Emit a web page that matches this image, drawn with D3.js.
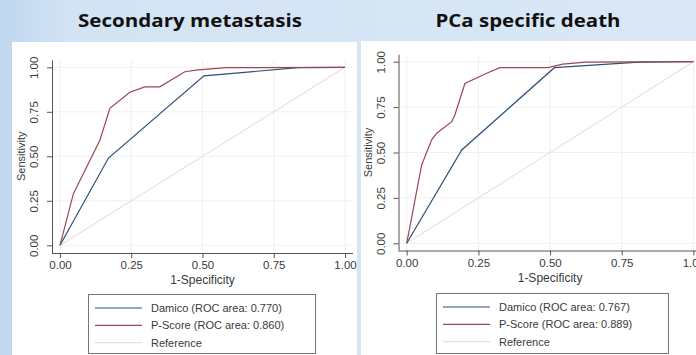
<!DOCTYPE html>
<html>
<head>
<meta charset="utf-8">
<script src="https://cdn.jsdelivr.net/npm/d3@7"></script>
<style>
  body { margin: 0; }
  svg { display: block; }
</style>
</head>
<body>
<svg id="chart" width="696" height="355"></svg>
<script>
// DATA
const tickValues = [0, 0.25, 0.5, 0.75, 1];
const panelTitles = ['Secondary metastasis', 'PCa specific death'];
const seriesNames = ['Damico', 'P-Score'];
const metAreas = ['0.770', '0.860'];
const deathAreas = ['0.767', '0.889'];

// [1-specificity, sensitivity]
const metDamico = [[0, 0], [0.17, 0.49], [0.505, 0.952], [0.835, 0.998], [1, 1]];
const metPScore = [[0, 0], [0.047, 0.29], [0.14, 0.59], [0.175, 0.77], [0.245, 0.86],
  [0.298, 0.89], [0.35, 0.89], [0.438, 0.975], [0.484, 0.985], [0.584, 0.998], [1, 1]];
const deathDamico = [[0, 0], [0.192, 0.514], [0.515, 0.967], [0.81, 0.998], [1, 1]];
const deathPScore = [[0, 0], [0.017, 0.14], [0.052, 0.43], [0.087, 0.57], [0.105, 0.606],
  [0.157, 0.67], [0.168, 0.707], [0.203, 0.88], [0.279, 0.936], [0.325, 0.967],
  [0.493, 0.967], [0.544, 0.987], [0.625, 0.998], [1, 1]];
const refLine = [[0, 0], [1, 1]];

// SETUP
var colors = { damico: '#2c5176', pscore: '#9a4852', ref: '#e8e0e0' };
var svg = d3.select('#chart');

// light blue slide background
var defs = svg.append('defs');
var grad = defs.append('linearGradient').attr('id', 'bg').attr('x1', 0).attr('x2', 1).attr('y1', 0).attr('y2', 0);
grad.append('stop').attr('offset', '0%').attr('stop-color', '#c0d7ef');
grad.append('stop').attr('offset', '10%').attr('stop-color', '#d2e3f4');
grad.append('stop').attr('offset', '100%').attr('stop-color', '#dae8f6');
svg.append('rect').attr('width', 696).attr('height', 355).attr('fill', 'url(#bg)');

var panels = [
  {
    title: panelTitles[0], titleX: 190, titleW: 224,
    box: [12, 42, 357, 355],
    x: d3.scaleLinear().domain([0, 1]).range([60, 345]),
    y: d3.scaleLinear().domain([0, 1]).range([245.3, 67.3]),
    axisX: 52, axisY: 253,
    series: [metDamico, metPScore],
    areas: metAreas,
    legend: [88, 294, 315, 353]
  },
  {
    title: panelTitles[1], titleX: 528, titleW: 185,
    box: [361, 41, 696, 355],
    x: d3.scaleLinear().domain([0, 1]).range([406.7, 693.4]),
    y: d3.scaleLinear().domain([0, 1]).range([243.3, 61.7]),
    axisX: 398.5, axisY: 250.5,
    series: [deathDamico, deathPScore],
    areas: deathAreas,
    legend: [436, 293, 668, 353]
  }
];

panels.forEach(function (p) {
  // title
  svg.append('text')
    .attr('x', p.titleX).attr('y', 27)
    .attr('text-anchor', 'middle')
    .attr('textLength', p.titleW).attr('lengthAdjust', 'spacingAndGlyphs')
    .style('font-family', '"Open Sans", sans-serif')
    .style('font-weight', 'bold').style('font-size', '17px')
    .attr('fill', '#111')
    .text(p.title);

  // white panel
  svg.append('rect')
    .attr('x', p.box[0]).attr('y', p.box[1])
    .attr('width', p.box[2] - p.box[0]).attr('height', p.box[3] - p.box[1])
    .attr('fill', '#fff');

  var g = svg.append('g');
  var x = p.x, y = p.y;

  // gridlines
  g.selectAll('line.hgrid').data(tickValues).enter().append('line')
    .attr('x1', p.axisX).attr('x2', x(1) + 8)
    .attr('y1', y).attr('y2', y)
    .attr('stroke', '#f0f0f0');
  g.selectAll('line.vgrid').data(tickValues).enter().append('line')
    .attr('x1', x).attr('x2', x)
    .attr('y1', p.axisY).attr('y2', y(1) - 7)
    .attr('stroke', '#f0f0f0');

  // curves
  var line = d3.line().x(function (d) { return x(d[0]); }).y(function (d) { return y(d[1]); });
  g.append('path').attr('d', line(refLine)).attr('fill', 'none')
    .attr('stroke', colors.ref).attr('stroke-width', 1.2);
  g.append('path').attr('d', line(p.series[0])).attr('fill', 'none')
    .attr('stroke', colors.damico).attr('stroke-width', 1.2);
  g.append('path').attr('d', line(p.series[1])).attr('fill', 'none')
    .attr('stroke', colors.pscore).attr('stroke-width', 1.2);

  // axes
  var xAxis = d3.axisBottom(x).tickValues(tickValues).tickFormat(d3.format('.2f')).tickSize(5).tickPadding(3);
  var gx = g.append('g').attr('transform', 'translate(0,' + p.axisY + ')').call(xAxis);
  gx.select('.domain').attr('d', 'M' + p.axisX + ',0.5H' + (x(1) + 8));
  var yAxis = d3.axisLeft(y).tickValues(tickValues).tickFormat(d3.format('.2f')).tickSize(5).tickPadding(3);
  var gy = g.append('g').attr('transform', 'translate(' + p.axisX + ',0)').call(yAxis);
  gy.select('.domain').attr('d', 'M0.5,' + p.axisY + 'V' + (y(1) - 7));
  [gx, gy].forEach(function (a) {
    a.selectAll('.domain, .tick line').attr('stroke', '#555');
    a.selectAll('text')
      .style('font-family', '"Liberation Sans", Arial, sans-serif')
      .style('font-size', '11.5px').attr('fill', '#3a3a3a');
  });
  gy.selectAll('.tick text')
    .attr('text-anchor', 'middle')
    .attr('x', null).attr('dy', null)
    .attr('transform', 'translate(-14,0) rotate(-90)');

  // axis titles
  g.append('text')
    .attr('x', (x(0) + x(1)) / 2).attr('y', p.axisY + 31)
    .attr('text-anchor', 'middle')
    .style('font-family', '"Liberation Sans", Arial, sans-serif')
    .style('font-size', '12px').attr('fill', '#3a3a3a')
    .text('1-Specificity');
  g.append('text')
    .attr('transform', 'translate(' + (p.axisX - 27) + ',' + ((y(0) + y(1)) / 2) + ') rotate(-90)')
    .attr('text-anchor', 'middle')
    .style('font-family', '"Liberation Sans", Arial, sans-serif')
    .style('font-size', '11px').attr('fill', '#3a3a3a')
    .text('Sensitivity');

  // legend
  var L = p.legend;
  g.append('rect')
    .attr('x', L[0] + 0.5).attr('y', L[1] + 0.5)
    .attr('width', L[2] - L[0]).attr('height', L[3] - L[1])
    .attr('fill', '#fff').attr('stroke', '#777');
  var items = [
    { label: seriesNames[0] + ' (ROC area: ' + p.areas[0] + ')', color: colors.damico },
    { label: seriesNames[1] + ' (ROC area: ' + p.areas[1] + ')', color: colors.pscore },
    { label: 'Reference', color: colors.ref }
  ];
  var rows = g.selectAll('g.legend-row').data(items).enter().append('g')
    .attr('class', 'legend-row')
    .attr('transform', function (d, i) { return 'translate(' + L[0] + ',' + (L[1] + 14 + i * 17.3) + ')'; });
  rows.append('line')
    .attr('x1', 7).attr('x2', 54).attr('y1', 0).attr('y2', 0)
    .attr('stroke', function (d) { return d.color; }).attr('stroke-width', 1.2);
  rows.append('text')
    .attr('x', 63).attr('y', 4)
    .style('font-family', '"Liberation Sans", Arial, sans-serif')
    .style('font-size', '11px').attr('fill', '#3a3a3a')
    .text(function (d) { return d.label; });
});
</script>
</body>
</html>
